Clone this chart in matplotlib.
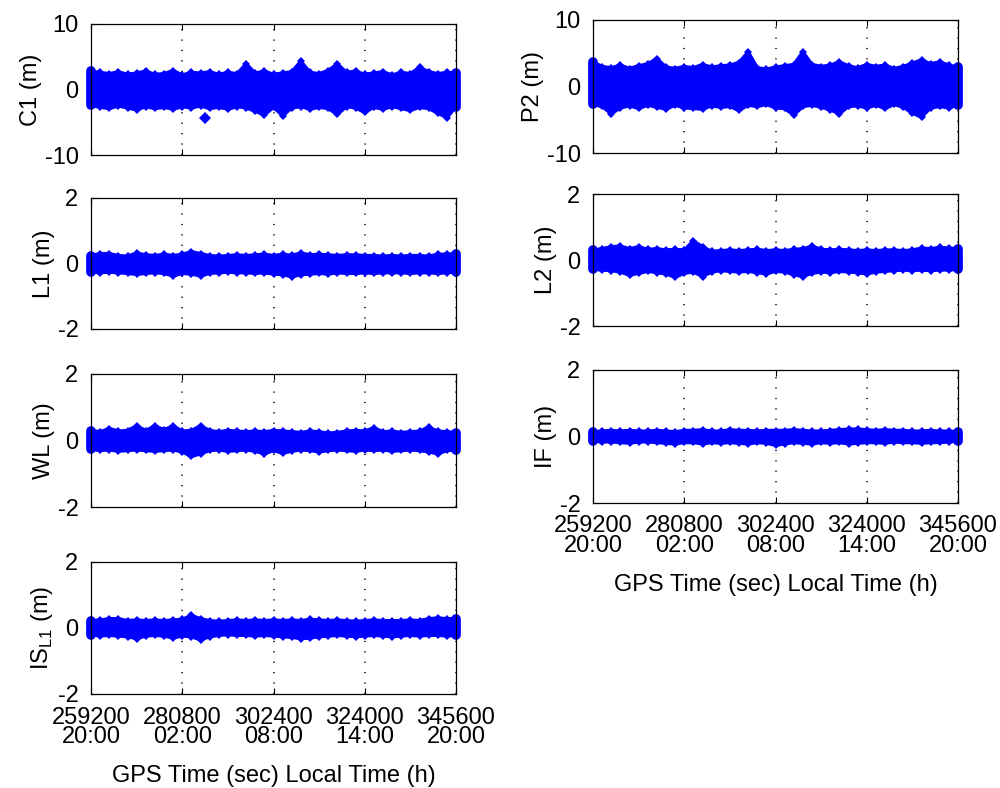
import numpy as np
import matplotlib.pyplot as plt

plt.rcParams['font.family'] = ['Liberation Sans', 'DejaVu Sans']
plt.rcParams['font.size'] = 17
plt.rcParams['axes.unicode_minus'] = False

# sample times (GPS seconds), one envelope reading every 2160 s
t = np.arange(41) * 2160 + 259200

xticks = [259200, 280800, 302400, 324000, 345600]
local_time = ['20:00', '02:00', '08:00', '14:00', '20:00']

# upper / lower envelope of the residual clouds (m)
c1_up = [2.8, 2.6, 2.4, 2.7, 2.3, 2.5, 2.8, 2.3, 2.4, 2.9, 2.2, 2.6, 2.5, 2.7, 2.3, 2.6, 2.4, 3.9, 2.5, 2.8, 2.3,
         2.5, 2.7, 4.3, 2.6, 2.4, 2.9, 3.9, 2.6, 2.8, 2.3, 2.5, 2.7, 2.2, 2.6, 2.4, 3.4, 2.7, 2.4, 2.6, 2.5]
c1_lo = [-2.4, -2.7, -2.9, -2.5, -2.8, -3.1, -2.6, -2.9, -2.7, -3.0, -2.6, -2.8, -2.5, -2.9, -2.7, -3.0, -2.6, -2.8,
         -3.3, -3.9, -2.7, -4.0, -2.8, -2.6, -3.0, -2.7, -2.9, -3.8, -2.6, -2.8, -3.5, -2.7, -3.0, -2.6, -2.9, -3.2,
         -2.7, -2.9, -3.6, -4.3, -2.6]
c1_out_t = [286200]
c1_out_v = [-4.4]

p2_up = [3.7, 3.0, 2.8, 3.2, 2.7, 3.1, 3.4, 4.2, 2.9, 2.7, 3.0, 2.8, 3.3, 2.9, 3.1, 3.2, 3.6, 5.2, 2.8, 2.6, 2.9,
         3.1, 3.3, 5.2, 3.3, 3.0, 3.2, 3.7, 3.1, 2.8, 3.3, 3.0, 3.2, 2.7, 3.0, 3.5, 4.0, 3.4, 3.7, 3.2, 2.9]
p2_lo = [-2.7, -3.0, -4.1, -3.2, -2.9, -3.3, -2.8, -3.1, -3.4, -2.8, -3.2, -3.3, -3.4, -2.9, -3.1, -3.0, -3.6, -2.8,
         -3.0, -2.7, -3.2, -3.3, -4.3, -3.0, -2.8, -3.1, -3.5, -4.1, -3.0, -2.9, -3.2, -2.8, -3.3, -2.7, -3.1, -4.0,
         -4.6, -3.2, -3.0, -3.2, -2.8]

l1_up = [0.24, 0.30, 0.30, 0.24, 0.22, 0.32, 0.26, 0.24, 0.28, 0.24, 0.28, 0.36, 0.30, 0.24, 0.22, 0.24, 0.26, 0.24,
         0.26, 0.28, 0.24, 0.28, 0.25, 0.32, 0.26, 0.28, 0.26, 0.24, 0.26, 0.26, 0.24, 0.24, 0.22, 0.24, 0.22, 0.24,
         0.24, 0.22, 0.28, 0.28, 0.30]
l1_lo = [-0.26, -0.28, -0.26, -0.28, -0.30, -0.33, -0.30, -0.28, -0.30, -0.38, -0.30, -0.32, -0.38, -0.30, -0.28,
         -0.26, -0.28, -0.28, -0.30, -0.28, -0.32, -0.34, -0.40, -0.34, -0.32, -0.30, -0.32, -0.28, -0.30, -0.30,
         -0.28, -0.30, -0.28, -0.28, -0.28, -0.30, -0.28, -0.28, -0.30, -0.28, -0.26]

l2_up = [0.30, 0.34, 0.40, 0.42, 0.34, 0.40, 0.32, 0.34, 0.30, 0.32, 0.30, 0.58, 0.40, 0.26, 0.28, 0.30, 0.28, 0.30,
         0.32, 0.28, 0.30, 0.28, 0.32, 0.34, 0.42, 0.32, 0.30, 0.32, 0.30, 0.28, 0.30, 0.28, 0.30, 0.30, 0.28, 0.30,
         0.36, 0.34, 0.38, 0.36, 0.34]
l2_lo = [-0.28, -0.30, -0.32, -0.36, -0.46, -0.40, -0.34, -0.38, -0.42, -0.52, -0.40, -0.36, -0.50, -0.36, -0.32,
         -0.34, -0.36, -0.34, -0.38, -0.42, -0.34, -0.36, -0.44, -0.50, -0.40, -0.36, -0.38, -0.34, -0.36, -0.38,
         -0.42, -0.36, -0.34, -0.32, -0.30, -0.32, -0.30, -0.32, -0.30, -0.30, -0.28]

wl_up = [0.30, 0.26, 0.36, 0.28, 0.30, 0.44, 0.30, 0.44, 0.32, 0.44, 0.28, 0.30, 0.44, 0.30, 0.26, 0.30, 0.28, 0.26,
         0.28, 0.26, 0.30, 0.28, 0.26, 0.24, 0.28, 0.26, 0.22, 0.24, 0.28, 0.30, 0.28, 0.38, 0.26, 0.28, 0.24, 0.26,
         0.28, 0.40, 0.28, 0.26, 0.24]
wl_lo = [-0.26, -0.30, -0.28, -0.32, -0.30, -0.28, -0.30, -0.32, -0.30, -0.28, -0.34, -0.48, -0.40, -0.30, -0.28,
         -0.32, -0.30, -0.28, -0.32, -0.40, -0.30, -0.38, -0.32, -0.28, -0.30, -0.34, -0.30, -0.28, -0.30, -0.32,
         -0.28, -0.30, -0.28, -0.32, -0.30, -0.28, -0.30, -0.34, -0.40, -0.30, -0.28]

if_up = [0.14, 0.16, 0.18, 0.16, 0.18, 0.16, 0.16, 0.18, 0.16, 0.14, 0.18, 0.18, 0.20, 0.16, 0.16, 0.20, 0.18, 0.18,
         0.16, 0.18, 0.18, 0.18, 0.20, 0.18, 0.16, 0.16, 0.18, 0.20, 0.22, 0.22, 0.20, 0.18, 0.20, 0.18, 0.18, 0.16,
         0.16, 0.18, 0.16, 0.16, 0.14]
if_lo = [-0.14, -0.16, -0.16, -0.18, -0.20, -0.16, -0.16, -0.18, -0.20, -0.22, -0.18, -0.18, -0.22, -0.18, -0.20,
         -0.18, -0.20, -0.22, -0.18, -0.20, -0.26, -0.22, -0.18, -0.20, -0.22, -0.18, -0.20, -0.18, -0.22, -0.20,
         -0.18, -0.18, -0.20, -0.16, -0.18, -0.18, -0.20, -0.18, -0.18, -0.16, -0.14]

is_up = [0.22, 0.24, 0.28, 0.28, 0.22, 0.24, 0.22, 0.24, 0.22, 0.24, 0.26, 0.38, 0.28, 0.22, 0.20, 0.22, 0.24, 0.22,
         0.24, 0.22, 0.24, 0.22, 0.24, 0.22, 0.26, 0.24, 0.22, 0.24, 0.22, 0.20, 0.22, 0.24, 0.22, 0.22, 0.22, 0.24,
         0.22, 0.28, 0.30, 0.28, 0.28]
is_lo = [-0.20, -0.24, -0.22, -0.24, -0.26, -0.32, -0.24, -0.22, -0.24, -0.30, -0.24, -0.26, -0.36, -0.26, -0.22,
         -0.20, -0.22, -0.22, -0.24, -0.22, -0.24, -0.26, -0.28, -0.32, -0.30, -0.26, -0.24, -0.22, -0.24, -0.26,
         -0.24, -0.22, -0.24, -0.26, -0.24, -0.22, -0.24, -0.22, -0.22, -0.24, -0.22]

blue = (0, 0, 1)

fig = plt.figure(figsize=(10, 7.88), dpi=100)


def make_axes(x0, y0, x1, y1):
    # box given in pixels of the 1000x788 figure
    return fig.add_axes([x0 / 1000, 1 - y1 / 788, (x1 - x0) / 1000, (y1 - y0) / 788])


def panel(box, up, lo, ylabel, ylim, xlabels=False, out_t=None, out_v=None):
    ax = make_axes(*box)
    ax.fill_between(t, lo, up, color=blue, lw=0, zorder=2)
    for env in (up, lo):
        ax.plot(t, env, '-D', color=blue, lw=2.5, ms=4.5, mew=0,
                solid_joinstyle='miter', clip_on=False, zorder=3)
    # rounded ends of the cloud, sticking out past the frame
    ax.plot([t[0], t[0]], [lo[0], up[0]], color=blue, lw=7, solid_capstyle='round', clip_on=False, zorder=3)
    ax.plot([t[-1], t[-1]], [lo[-1], up[-1]], color=blue, lw=7, solid_capstyle='round', clip_on=False, zorder=3)
    if out_t is not None:
        ax.plot(out_t, out_v, 'D', color=blue, ms=6, mew=0, clip_on=False, zorder=3)
    ax.set_xlim(xticks[0], xticks[-1])
    ax.set_ylim(-ylim, ylim)
    ax.set_yticks([-ylim, 0, ylim])
    ax.set_xticks(xticks)
    ax.xaxis.grid(True, color='black', lw=1.1, linestyle=(0, (0.8, 6)))
    ax.set_axisbelow(True)
    ax.tick_params(direction='in', top=True, right=True, length=4, width=0.8)
    ax.tick_params(axis='y', pad=9)
    ax.tick_params(axis='x', pad=9)
    for s in ax.spines.values():
        s.set_linewidth(0.9)
        s.set_zorder(4)
    ax.set_ylabel(ylabel, labelpad=2)
    if xlabels:
        ax.set_xticklabels([f'{a}\n{b}' for a, b in zip(xticks, local_time)], linespacing=0.85)
        ax.set_xlabel('GPS Time (sec) Local Time (h)', labelpad=12)
    else:
        ax.set_xticklabels([])
    return ax


panel((91, 24, 456, 155), c1_up, c1_lo, 'C1 (m)', 10, out_t=c1_out_t, out_v=c1_out_v)
panel((91, 198, 456, 329), l1_up, l1_lo, 'L1 (m)', 2)
panel((91, 374, 456, 507), wl_up, wl_lo, 'WL (m)', 2)
panel((91, 562, 456, 694), is_up, is_lo, r'IS$_{\mathregular{L1}}$ (m)', 2, xlabels=True)

panel((593, 20, 958, 153), p2_up, p2_lo, 'P2 (m)', 10)
panel((593, 194, 958, 326), l2_up, l2_lo, 'L2 (m)', 2)
panel((593, 370, 958, 503), if_up, if_lo, 'IF (m)', 2, xlabels=True)

fig.savefig('out.png', dpi=100)
